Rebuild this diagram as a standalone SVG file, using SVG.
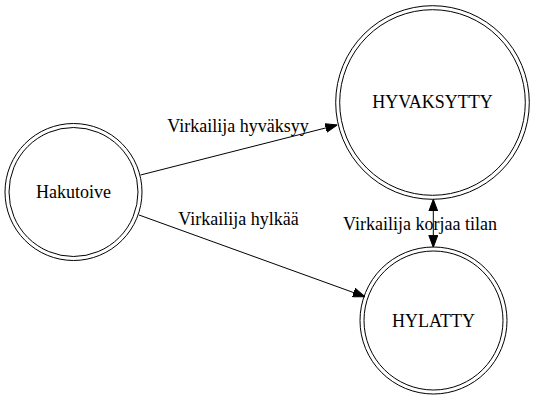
<svg xmlns="http://www.w3.org/2000/svg" width="537" height="400" viewBox="0 0 537 400">
<style>
.node circle{fill:none;stroke:#000;stroke-width:1}
text{font-family:'Liberation Serif','Times New Roman',Times,serif;font-size:18px;fill:#000;text-anchor:middle}
.edge{stroke:#000;stroke-width:1;fill:none}
</style>
<defs>
<marker id="arr" viewBox="0 0 12 10" refX="12" refY="5" markerWidth="12" markerHeight="10" markerUnits="userSpaceOnUse" orient="auto-start-reverse">
<path d="M0,0.5 L12,5 L0,9.5 Z" fill="#000" stroke="#000" stroke-width="1"/>
</marker>
</defs>
<rect width="537" height="400" fill="#fff"/>
<g id="connectors" font-family="Liberation Serif, serif">
<path class="edge" d="M140.5,175 L337.3,125" marker-end="url(#arr)"/>
<path class="edge" d="M139,215 L365,296.7" marker-end="url(#arr)"/>
<path class="edge" d="M433.3,199.3 L433.3,247.3" marker-start="url(#arr)" marker-end="url(#arr)"/>
<text x="238" y="132">Virkailija hyväksyy</text>
<text x="238.5" y="225">Virkailija hylkää</text>
<text x="420" y="230">Virkailija korjaa tilan</text>
</g>
<g id="Hakutoive" class="node">
<circle cx="73.5" cy="192" r="68.5"/>
<circle cx="73.5" cy="192" r="64.5"/>
<text x="73.5" y="198">Hakutoive</text>
</g>
<g id="HYVAKSYTTY" class="node">
<circle cx="432.5" cy="102.5" r="96.8"/>
<circle cx="432.5" cy="102.5" r="92.8"/>
<text x="432.5" y="108">HYVAKSYTTY</text>
</g>
<g id="HYLATTY" class="node">
<circle cx="433.5" cy="320.5" r="73.5"/>
<circle cx="433.5" cy="320.5" r="69.5"/>
<text x="433.5" y="327">HYLATTY</text>
</g>
</svg>
